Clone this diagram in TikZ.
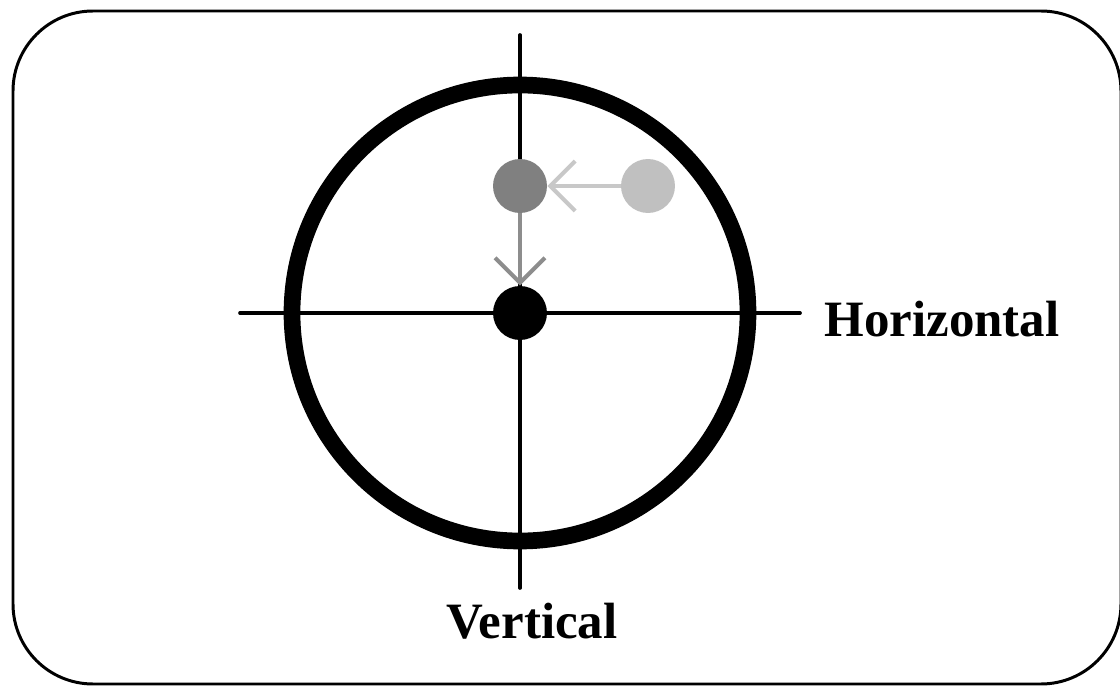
\documentclass[tikz,border=0pt]{standalone}
\usepackage{fontspec}
\setmainfont{Liberation Serif}
\usetikzlibrary{arrows.meta,positioning}
\definecolor{startcolor}{RGB}{192,192,192}
\definecolor{midcolor}{RGB}{128,128,128}
\definecolor{movecolor}{RGB}{200,200,200}

\begin{document}
\begin{tikzpicture}[
    x=0.02cm, y=-0.02cm,
    dot/.style={circle, minimum size=1.08cm, inner sep=0pt},
    hair/.style={line width=2.1pt, line cap=round},
    move/.style={-{Straight Barb[length=5mm, width=10mm, line width=2.3pt]}, line width=2.3pt},
    label/.style={font=\fontsize{29}{34}\selectfont\bfseries, inner sep=0pt}
]
    \useasboundingbox (0,0) rectangle (1120,686);
    % Frame
    \draw[line width=1.7pt, rounded corners=1.6cm] (13,11) rectangle (1121,684);

    % Target
    \coordinate (centre) at (520,313);
    \draw[line width=9.5pt] (centre) circle (228);
    \coordinate (hleft) at (240,313);
    \coordinate (hright) at (800,313);
    \coordinate (vtop) at (520,35);
    \coordinate (vbottom) at (520,588);
    \draw[hair] (hleft) -- (hright);
    \draw[hair] (vtop) -- (vbottom);

    % Dots
    \node[dot, fill=black] (final) at (centre) {};
    \node[dot, fill=midcolor] (middle) at (520,186) {};
    \node[dot, fill=startcolor] (start) at (648,186) {};

    \draw[move, draw=movecolor] (start) -- (middle);
    \draw[move, draw=midcolor!90!white] (middle) -- (final);

    % Labels
    \node[label, anchor=base] (horiz) at (942,337) {Horizontal};
    \node[label, anchor=base] (vert) at (532,638) {Vertical};
\end{tikzpicture}
\end{document}
